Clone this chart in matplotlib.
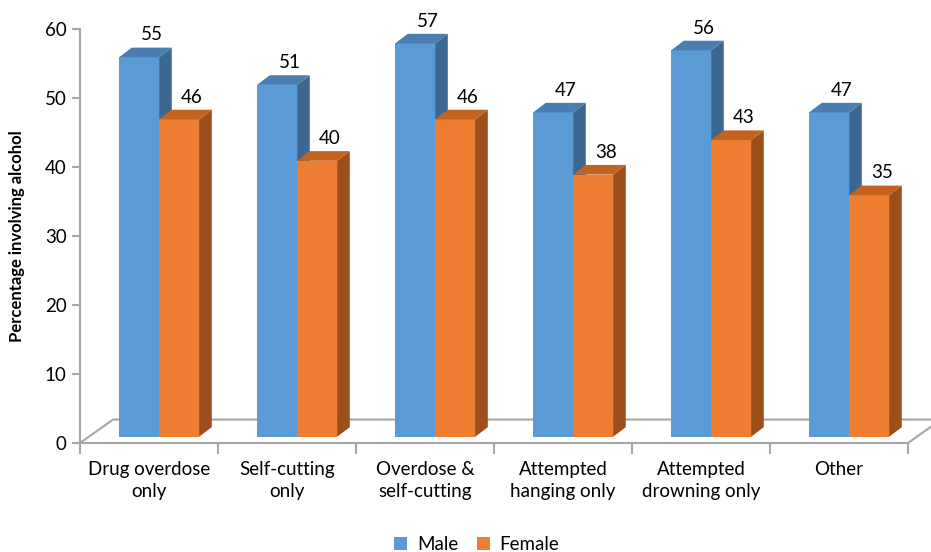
import matplotlib.pyplot as plt
from matplotlib.patches import Polygon, Patch

# Datos
categorias = ['Drug overdose\nonly', 'Self-cutting\nonly', 'Overdose &\nself-cutting',
              'Attempted\nhanging only', 'Attempted\ndrowning only', 'Other']
male = [55, 51, 57, 47, 56, 47]
female = [46, 40, 46, 38, 43, 35]
series = ['Male', 'Female']

# Colores (frente, arriba, lado)
col_male = ('#5B9BD5', '#4A7EB3', '#3D6790')
col_female = ('#ED7D31', '#C4631F', '#9C4F1C')
gray = '#A6A6A6'

plt.rcParams['font.family'] = ['Lato', 'DejaVu Sans']

fig = plt.figure(figsize=(9.31, 5.52), dpi=100)
ax = fig.add_axes([80/931, 109/552, 828/931, 414/552])
ax.set_xlim(0, 6)
ax.set_ylim(0, 60)

# efecto 3D
base = 0.9       # desplazamiento de la base de la barra
ddx, ddy = 0.092, 1.4   # profundidad de la barra
w = 0.29
x0 = 0.283

# piso
fdx, fdy = 0.24, 3.4
ax.plot([0, fdx, 6 + fdx, 6], [0, fdy, fdy, 0], color=gray, lw=1.5, clip_on=False, zorder=1)


def barra3d(x, v, cols):
    y0 = base
    y1 = base + v
    front = Polygon([(x, y0), (x + w, y0), (x + w, y1), (x, y1)], closed=True,
                    facecolor=cols[0], edgecolor='none', zorder=3)
    top = Polygon([(x, y1), (x + w, y1), (x + w + ddx, y1 + ddy), (x + ddx, y1 + ddy)],
                  closed=True, facecolor=cols[1], edgecolor='none', zorder=3)
    side = Polygon([(x + w, y0), (x + w + ddx, y0 + ddy), (x + w + ddx, y1 + ddy), (x + w, y1)],
                   closed=True, facecolor=cols[2], edgecolor='none', zorder=2)
    for p in (side, front, top):
        p.set_clip_on(False)
        ax.add_patch(p)
    ax.text(x + w / 2 + ddx, y1 + ddy + 0.6, str(v), ha='center', va='bottom', fontsize=13.5)


for i in range(len(categorias)):
    barra3d(i + x0, male[i], col_male)
    barra3d(i + x0 + w, female[i], col_female)

# ejes
for s in ['top', 'right']:
    ax.spines[s].set_visible(False)
ax.spines['left'].set_color(gray)
ax.spines['bottom'].set_color(gray)
ax.spines['left'].set_linewidth(1.5)
ax.spines['bottom'].set_linewidth(1.5)

ax.set_yticks(range(0, 61, 10))
ax.tick_params(axis='y', colors=gray, labelcolor='black', labelsize=13.5, length=6, width=1.5)
ax.set_xticks(range(0, 7))
ax.set_xticklabels([])
ax.tick_params(axis='x', which='major', colors=gray, length=8, width=1.5)
ax.set_xticks([i + 0.5 for i in range(6)], minor=True)
ax.set_xticklabels(categorias, minor=True, fontsize=13.5, linespacing=1.35)
ax.tick_params(axis='x', which='minor', length=0, pad=13)

ax.set_ylabel('Percentage involving alcohol', fontsize=12, fontweight='bold', labelpad=14)

handles = [Patch(facecolor=col_male[0]), Patch(facecolor=col_female[0])]
fig.legend(handles, series, loc='lower center', ncol=2, frameon=False, fontsize=13.5,
           handlelength=0.7, handleheight=0.7, columnspacing=1.0, handletextpad=0.5,
           bbox_to_anchor=(0.512, -0.033))

plt.savefig('out.png', dpi=100)
